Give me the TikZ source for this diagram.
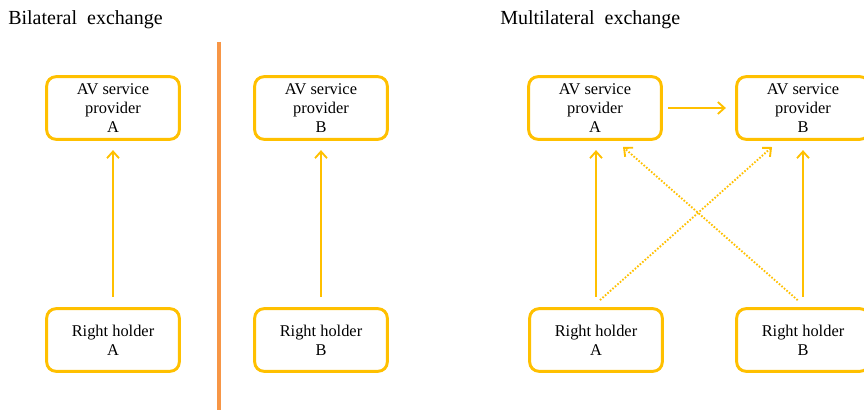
\documentclass[tikz,border=0pt]{standalone}
\usepackage{fontspec}
\setmainfont{Liberation Serif}
\usetikzlibrary{arrows.meta}

\definecolor{boxyellow}{HTML}{FFC000}
\definecolor{lineorange}{HTML}{F79646}

\begin{document}
\begin{tikzpicture}[x=0.75pt, y=-0.75pt,
    box/.style={draw=boxyellow, line width=2.2pt, rounded corners=7pt, fill=white,
      minimum width=99.5pt, minimum height=47pt, align=center,
      font=\fontsize{12.3}{14.2}\selectfont, inner sep=2pt},
    link/.style={draw=boxyellow, line width=1.4pt, -{Straight Barb[length=5pt, width=9pt]},
      shorten <=8pt, shorten >=7pt},
    dots/.style={dash pattern=on 1.2pt off 1.3pt},
    heading/.style={anchor=west, font=\fontsize{15}{17}\selectfont, inner sep=0pt}]
        \useasboundingbox (0,0) rectangle (864,410);

        \node[heading] (t1) at (8,20) {Bilateral\enspace exchange};
        \node[heading] (t2) at (500,20) {Multilateral\enspace exchange};

        \draw[lineorange, line width=2.4pt] (219,42) -- (219,410);

        % bilateral
        \node[box] (pa) at (113,108) {AV service\\provider\\A};
        \node[box] (pb) at (321,108) {AV service\\provider\\B};
        \node[box] (ha) at (113,340) {Right holder\\A};
        \node[box] (hb) at (321,340) {Right holder\\B};

        \draw[link] (ha) -- (pa);
        \draw[link] (hb) -- (pb);

        % multilateral
        \node[box] (mpa) at (595,108) {AV service\\provider\\A};
        \node[box] (mpb) at (803,108) {AV service\\provider\\B};
        \node[box] (mha) at (596,340) {Right holder\\A};
        \node[box] (mhb) at (803,340) {Right holder\\B};

        \draw[link] (mha) -- (mha |- mpa.south);
        \draw[link] (mhb) -- (mhb |- mpb.south);
        \draw[link, shorten <=4pt] (mpa.east) -- (mpb.west);
        \draw[link, dots] ([xshift=-3pt]mha.north) -- ([xshift=-18pt]mpb.south);
        \draw[link, dots] ([xshift=2pt]mhb.north) -- ([xshift=15.75pt]mpa.south);
      \end{tikzpicture}
\end{document}
